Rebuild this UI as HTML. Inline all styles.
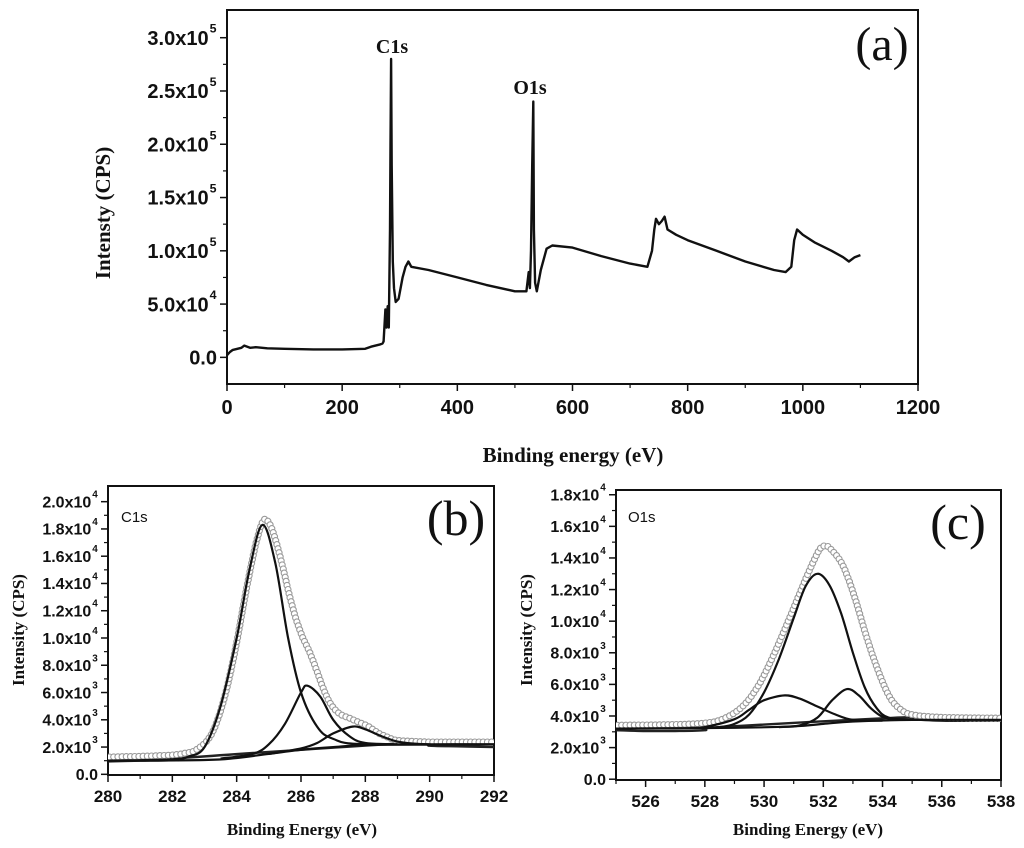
<!DOCTYPE html>
<html><head><meta charset="utf-8"><style>
html,body{margin:0;padding:0;background:#fff;}
svg{display:block;}
.tk{font-family:"Liberation Sans",sans-serif;font-weight:bold;fill:#111;}
.ttl{font-family:"Liberation Serif",serif;font-weight:bold;fill:#111;}
</style></head><body>
<svg id="fig" width="1024" height="848" viewBox="0 0 1024 848" xmlns="http://www.w3.org/2000/svg"></svg>
<script>
// ---- Panel (a) survey data: [binding energy eV, intensity x1e4 CPS]
const surveyX=[0,5,10,18,25,30,40,50,70,100,150,200,240,250,265,270,272,275,277,279,281,283,284,285,286,288,290,293,298,305,310,315,320,350,400,450,500,520,524,526,528,530,532,533,535,538,545,555,565,600,650,700,730,738,742,745,750,755,760,765,780,800,850,900,950,970,980,985,990,1000,1020,1050,1070,1080,1090,1100];
const surveyY=[0.2,0.5,0.7,0.8,0.9,1.1,0.9,0.95,0.85,0.8,0.75,0.75,0.8,1.0,1.2,1.3,1.5,4.5,2.8,4.8,2.8,12,20,28,18,9,6.5,5.2,5.5,7.5,8.5,9,8.5,8.2,7.5,6.8,6.2,6.2,8,6.5,10,18,24,12,7,6.2,8.2,10.2,10.5,10.3,9.5,8.8,8.5,10,12,13,12.5,12.8,13.2,12,11.5,11,10,9,8.2,8,8.5,11,12,11.5,10.8,10,9.4,9,9.4,9.6];
const yTicksA=[0,5,10,15,20,25,30];
const yTickLabelsA=[["0.0",""],["5.0x10","4"],["1.0x10","5"],["1.5x10","5"],["2.0x10","5"],["2.5x10","5"],["3.0x10","5"]];
const xTicksA=[0,200,400,600,800,1000,1200];

// ---- Panel (b) C1s, intensity x1e3
const bBgX=[280,283,284,285,286,287,288,290,292];
const bBgY=[1.0,1.05,1.2,1.5,1.8,2.0,2.15,2.2,2.2];
const bP1X=[280,282,282.5,283,283.5,284,284.4,284.8,285.2,285.6,286,286.5,287,288,292];
const bP1Y=[1.0,1.1,1.3,2.0,5,10,15,18.3,15.5,10,6,3.5,2.6,2.2,2.2];
const bP2X=[283.5,284.5,285,285.5,286,286.2,286.6,287,287.5,288,289];
const bP2Y=[1.15,1.5,2.2,3.7,6.0,6.5,5.7,4.0,2.8,2.3,2.2];
const bP3X=[285,286,286.5,287,287.6,288,288.5,289,289.5,290];
const bP3Y=[1.5,1.9,2.3,3.0,3.5,3.3,2.8,2.4,2.25,2.2];
const bEnvX=[280,281,282,282.4,282.6,282.8,283,283.2,283.4,283.6,283.8,284,284.2,284.4,284.6,284.8,285,285.2,285.4,285.6,285.8,286,286.2,286.4,286.6,286.8,287,287.2,287.4,287.6,287.8,288,288.2,288.4,288.6,288.8,289,289.4,290,291,292];
const bEnvY=[1.2,1.25,1.35,1.5,1.6,1.9,2.3,3.0,4.2,5.8,7.8,10.2,12.8,15.2,17.3,18.6,18.2,16.8,15.0,13.0,11.3,10.0,9.0,7.8,6.5,5.4,4.7,4.3,4.1,3.9,3.7,3.5,3.2,2.9,2.7,2.5,2.4,2.35,2.3,2.3,2.3];
const bRawX=[280,281,282,282.6,289.4,290,291,292];
const bRawY=[0.95,1.0,1.05,1.25,2.3,2.1,2.05,2.0];
const yTicksB=[0,2,4,6,8,10,12,14,16,18,20];
const yTickLabelsB=[["0.0",""],["2.0x10","3"],["4.0x10","3"],["6.0x10","3"],["8.0x10","3"],["1.0x10","4"],["1.2x10","4"],["1.4x10","4"],["1.6x10","4"],["1.8x10","4"],["2.0x10","4"]];
const xTicksB=[280,282,284,286,288,290,292];

// ---- Panel (c) O1s, intensity x1e3
const cBgX=[525,529,531,532,533,535,538];
const cBgY=[3.2,3.25,3.35,3.5,3.65,3.75,3.75];
const cP1X=[528,528.5,529,529.5,530,530.5,531,531.4,531.8,532.2,532.6,533,533.4,533.8,534.2,535];
const cP1Y=[3.25,3.3,3.5,4.1,5.5,7.6,10.2,12.2,13.0,12.3,10.5,8.0,5.8,4.5,3.9,3.75];
const cP2X=[527.5,528,529,529.5,530,530.7,531.2,531.8,532.4,533,534];
const cP2Y=[3.25,3.3,3.8,4.4,5.0,5.3,5.1,4.6,4.1,3.75,3.7];
const cP3X=[530.5,531.2,531.8,532.3,532.8,533.2,533.6,534,534.5];
const cP3Y=[3.3,3.4,3.9,5.0,5.7,5.3,4.5,3.95,3.75];
const cEnvX=[525,527,528,528.5,529,529.4,529.8,530.2,530.6,531,531.4,531.8,532,532.2,532.6,533,533.4,533.8,534.2,534.6,535,536,538];
const cEnvY=[3.35,3.4,3.5,3.7,4.2,4.9,6.0,7.5,9.2,11.0,12.8,14.4,14.7,14.5,13.5,11.5,9.0,6.8,5.1,4.3,4.0,3.85,3.8];
const cRawX=[525,526,527,528,528.5,534.5,535,536,537,538];
const cRawY=[3.1,3.05,3.05,3.1,3.3,3.9,3.8,3.7,3.7,3.7];
const yTicksC=[0,2,4,6,8,10,12,14,16,18];
const yTickLabelsC=[["0.0",""],["2.0x10","3"],["4.0x10","3"],["6.0x10","3"],["8.0x10","3"],["1.0x10","4"],["1.2x10","4"],["1.4x10","4"],["1.6x10","4"],["1.8x10","4"]];
const xTicksC=[526,528,530,532,534,536,538];

const NS="http://www.w3.org/2000/svg";
const svg=document.getElementById('fig');
function mk(tag,attrs,parent){const e=document.createElementNS(NS,tag);for(const k in attrs)e.setAttribute(k,attrs[k]);(parent||svg).appendChild(e);return e;}
function axes(L,R,T,B,x0,x1,y0,y1){return{sx:v=>L+(v-x0)/(x1-x0)*(R-L),sy:v=>B-(v-y0)/(y1-y0)*(B-T)};}
function pathD(a,xs,ys,smooth){
  const P=xs.map((x,i)=>[a.sx(x),a.sy(ys[i])]);
  if(!smooth) return P.map((p,i)=>(i?'L':'M')+p[0].toFixed(1)+' '+p[1].toFixed(1)).join(' ');
  let d='M'+P[0][0].toFixed(1)+' '+P[0][1].toFixed(1);
  for(let i=0;i<P.length-1;i++){
    const p0=P[Math.max(0,i-1)],p1=P[i],p2=P[i+1],p3=P[Math.min(P.length-1,i+2)];
    const c1=[p1[0]+(p2[0]-p0[0])/6,p1[1]+(p2[1]-p0[1])/6];
    const c2=[p2[0]-(p3[0]-p1[0])/6,p2[1]-(p3[1]-p1[1])/6];
    d+=` C${c1[0].toFixed(1)} ${c1[1].toFixed(1)} ${c2[0].toFixed(1)} ${c2[1].toFixed(1)} ${p2[0].toFixed(1)} ${p2[1].toFixed(1)}`;
  }
  return d;
}
function line(g,a,xs,ys,w,col,name,smooth){
  const p=mk('path',{d:pathD(a,xs,ys,smooth),fill:'none',stroke:col,'stroke-width':w,'stroke-linejoin':'round'},g);
  
  
  return p;
}
function panel(o){
  const g=mk('g',{});
  
  
  const a=axes(o.L,o.R,o.T,o.B,o.x0,o.x1,o.y0,o.y1);
  const frame=mk('rect',{x:o.L,y:o.T,width:o.R-o.L,height:o.B-o.T,fill:'none',stroke:'#111','stroke-width':2},g);
  
  
  o.yt.forEach((v,i)=>{
    const y=a.sy(v);
    const t=mk('line',{x1:o.L-7,x2:o.L,y1:y,y2:y,stroke:'#111','stroke-width':1.5},g);
    
    
    if(i<o.yt.length-1){const ym=a.sy((v+o.yt[i+1])/2);
      const m=mk('line',{x1:o.L-4,x2:o.L,y1:ym,y2:ym,stroke:'#111','stroke-width':1.2},g);
      
      }
    const lab=o.ytl[i];
    const tx=mk('text',{x:o.L-10-(lab[1]?o.fs*0.42:0),y:y+o.fs*0.36,'text-anchor':'end','font-size':o.fs,class:'tk'},g);
    tx.textContent=lab[0];
    
    
    if(lab[1]){
      const s=mk('text',{x:o.L-10-o.fs*0.42+1,y:y-o.fs*0.25,'text-anchor':'start','font-size':o.fs*0.62,class:'tk'},g);
      s.textContent=lab[1];
      
      }
  });
  o.xt.forEach((v,i)=>{
    const x=a.sx(v);
    const t=mk('line',{x1:x,x2:x,y1:o.B,y2:o.B+7,stroke:'#111','stroke-width':1.5},g);
    
    
    if(i<o.xt.length-1){const xm=a.sx((v+o.xt[i+1])/2);
      const m=mk('line',{x1:xm,x2:xm,y1:o.B,y2:o.B+4,stroke:'#111','stroke-width':1.2},g);
      
      }
    const tx=mk('text',{x:x,y:o.B+o.xfs+10,'text-anchor':'middle','font-size':o.xfs,class:'tk'},g);
    tx.textContent=String(v);
    
    
  });
  if(o.x0<o.xt[0]){const xm=a.sx(o.x0);
    const m=mk('line',{x1:xm,x2:xm,y1:o.B,y2:o.B+4,stroke:'#111','stroke-width':1.2},g);
    
    }
  const xt=mk('text',{x:o.xtx,y:o.xty,'text-anchor':'middle','font-size':o.tfs,class:'ttl'},g);
  xt.textContent=o.xtitle;
  
  
  const yt=mk('text',{x:0,y:0,'text-anchor':'middle','font-size':o.tfs,class:'ttl',transform:`translate(${o.ytx},${o.yty}) rotate(-90)`},g);
  yt.textContent=o.ytitle;
  
  
  const pl=mk('text',{x:o.plx,y:o.ply,'text-anchor':'middle','font-size':o.plfs,'font-family':'Liberation Serif, serif',fill:'#111'},g);
  pl.textContent=o.plabel;
  
  
  const clip=mk('clipPath',{id:'clip-'+o.name},g);
  mk('rect',{x:o.L,y:o.T,width:o.R-o.L,height:o.B-o.T},clip);
  const dg=mk('g',{'clip-path':`url(#clip-${o.name})`},g);
  
  
  return {a,dg,g};
}

// Panel a
const pa=panel({name:'panel-a-survey',L:227,R:918,T:10,B:384,x0:0,x1:1200,y0:-2.5,y1:32.6,
  yt:yTicksA,ytl:yTickLabelsA,xt:xTicksA,fs:20,xfs:20,tfs:21,
  xtitle:'Binding energy (eV)',xtx:573,xty:462,ytitle:'Intensty (CPS)',ytx:110,yty:213,
  plabel:'(a)',plx:882,ply:60,plfs:48});
line(pa.dg,pa.a,surveyX,surveyY,2.4,'#111','survey-spectrum',false);
[['C1s',392,53],['O1s',530,94]].forEach(p=>{
  const t=mk('text',{x:p[1],y:p[2],'text-anchor':'middle','font-size':20,class:'ttl'},pa.g);
  t.textContent=p[0];
  
  
});

function hr(p,bg,p1,p2,p3,env,raw){
  line(p.dg,p.a,raw[0],raw[1],2.4,'#222','raw-data',true);
  const ep=line(p.dg,p.a,env[0],env[1],1.6,'#333','raw-data-trace',true);
  const L=ep.getTotalLength();
  for(let s=0;s<=L;s+=4.2){
    const q=ep.getPointAtLength(s);
    const c=mk('circle',{cx:(q.x+1.5).toFixed(1),cy:(q.y-1).toFixed(1),r:3,fill:'#fff',stroke:'#999','stroke-width':1.1},p.dg);
    
    
  }
  line(p.dg,p.a,bg[0],bg[1],2.2,'#111','background-line',true);
  line(p.dg,p.a,p1[0],p1[1],2.2,'#111','fit-peak-1',true);
  line(p.dg,p.a,p2[0],p2[1],2.2,'#111','fit-peak-2',true);
  line(p.dg,p.a,p3[0],p3[1],2.2,'#111','fit-peak-3',true);
}
// Panel b
const pb=panel({name:'panel-b-c1s',L:108,R:494,T:486,B:775,x0:280,x1:292,y0:-0.05,y1:21.15,
  yt:yTicksB,ytl:yTickLabelsB,xt:xTicksB,fs:16,xfs:17,tfs:17,
  xtitle:'Binding Energy (eV)',xtx:302,xty:835,ytitle:'Intensity (CPS)',ytx:24,yty:630,
  plabel:'(b)',plx:456,ply:535,plfs:50});
hr(pb,[bBgX,bBgY],[bP1X,bP1Y],[bP2X,bP2Y],[bP3X,bP3Y],[bEnvX,bEnvY],[bRawX,bRawY]);
let tb=mk('text',{x:121,y:522,'font-size':15,'font-family':'Liberation Sans, sans-serif',fill:'#111'},pb.g);
tb.textContent='C1s';


// Panel c
const pc=panel({name:'panel-c-o1s',L:616,R:1001,T:490,B:780,x0:525,x1:538,y0:-0.05,y1:18.3,
  yt:yTicksC,ytl:yTickLabelsC,xt:xTicksC,fs:16,xfs:17,tfs:17,
  xtitle:'Binding Energy (eV)',xtx:808,xty:835,ytitle:'Intensity (CPS)',ytx:532,yty:630,
  plabel:'(c)',plx:958,ply:539,plfs:50});
hr(pc,[cBgX,cBgY],[cP1X,cP1Y],[cP2X,cP2Y],[cP3X,cP3Y],[cEnvX,cEnvY],[cRawX,cRawY]);
let tc=mk('text',{x:628,y:522,'font-size':15,'font-family':'Liberation Sans, sans-serif',fill:'#111'},pc.g);
tc.textContent='O1s';


</script>
</body></html>
